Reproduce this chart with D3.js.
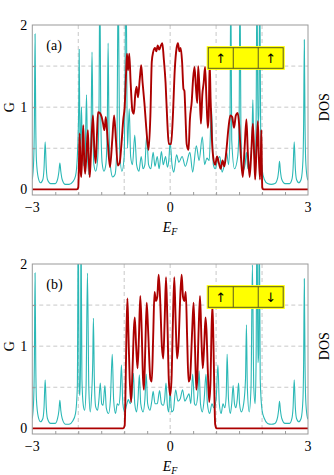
<!DOCTYPE html>
<html>
<head>
<meta charset="utf-8">
<script src="https://cdn.jsdelivr.net/npm/d3@7"></script>
<style>
  body { margin: 0; background: #fff; }
  text { font-family: "Liberation Serif", "DejaVu Serif", serif; }
</style>
</head>
<body>
<div class="chart"></div>
<script>
// x ticks and labels
var xTicks = [-3, 0, 3];
var yTicks = [0, 1, 2];
var gridX = [-2, -1, 0, 1, 2];
var gridY = [0.5, 1, 1.5];

// panel (a): DOS (cyan) and G (red), [E_F, value]
var dosA = [[-3.00,0.12],[-2.97,0.35],[-2.955,0.8],[-2.94,1.89],[-2.925,0.8],[-2.91,0.35],[-2.87,0.14],[-2.82,0.08],[-2.77,0.12],[-2.745,0.25],[-2.72,0.58],[-2.695,0.25],[-2.67,0.12],[-2.60,0.07],[-2.50,0.07],[-2.45,0.12],[-2.42,0.22],[-2.40,0.32],[-2.38,0.22],[-2.35,0.12],[-2.28,0.06],[-2.20,0.06],[-2.12,0.09],[-2.06,0.16],[-2.02,0.40],
  [-1.99,1.0],[-1.98,1.70],[-1.965,0.7],[-1.95,0.55],[-1.93,1.0],[-1.91,0.45],[-1.87,0.28],[-1.85,0.4],[-1.82,1.15],[-1.80,0.45],[-1.77,0.18],[-1.74,0.35],[-1.72,0.8],[-1.70,1.67],[-1.68,0.7],[-1.66,0.3],[-1.62,0.22],[-1.58,0.35],[-1.55,0.9],[-1.53,2.6],[-1.51,0.9],[-1.48,0.32],[-1.44,0.22],[-1.40,0.30],[-1.37,0.7],[-1.35,1.78],[-1.33,0.7],[-1.30,0.28],[-1.25,0.15],[-1.20,0.18],[-1.16,0.5],[-1.13,2.6],[-1.10,0.5],[-1.05,0.22],[-1.00,0.4],[-0.96,2.6],[-0.93,0.5],[-0.89,0.98],[-0.86,0.4],[-0.82,0.30],[-0.77,0.66],[-0.73,0.30],[-0.68,0.22],[-0.63,0.40],[-0.59,0.25],[-0.55,0.30],[-0.51,0.66],[-0.47,0.30],[-0.42,0.25],[-0.37,0.45],[-0.33,0.28],[-0.28,0.40],[-0.24,0.25],[-0.19,0.46],[-0.15,0.30],[-0.10,0.40],[-0.06,0.27],[-0.03,0.35],[0,0.58],
  [0.04,0.3],[0.08,0.21],[0.14,0.42],[0.19,0.33],[0.26,0.40],[0.33,0.28],[0.43,0.45],[0.49,0.21],[0.57,0.53],[0.63,0.35],[0.70,0.64],[0.75,0.30],[0.80,0.38],[0.85,0.35],[0.90,0.99],[0.94,0.30],[0.98,0.25],[1.03,0.35],[1.08,0.40],[1.13,0.21],[1.18,0.30],[1.23,0.45],[1.27,0.30],[1.30,0.6],[1.32,2.6],[1.34,0.6],[1.40,0.25],[1.47,0.4],[1.50,0.8],[1.52,2.6],[1.54,0.7],[1.58,0.22],[1.63,0.3],[1.66,0.45],[1.69,0.25],[1.75,0.35],[1.78,0.6],[1.80,1.09],[1.82,0.5],[1.85,0.3],[1.87,0.8],[1.89,2.6],[1.91,0.8],[1.93,0.9],[1.95,2.6],[1.97,0.7],[2.00,0.25],[2.05,0.12],[2.12,0.07],[2.20,0.06],[2.28,0.07],[2.34,0.14],[2.36,0.22],[2.38,0.34],[2.40,0.22],[2.43,0.12],[2.50,0.07],[2.60,0.07],[2.65,0.12],[2.675,0.25],[2.70,0.58],[2.725,0.25],[2.75,0.12],[2.80,0.08],[2.85,0.12],[2.89,0.35],[2.905,0.8],[2.92,1.82],[2.935,0.8],[2.95,0.35],[2.98,0.15],[3.00,0.11]];

var gA = [[-3,0],[-2.03,0],[-2.0,0.02],[-1.985,0.3],[-1.97,0.68],[-1.95,0.25],[-1.935,0.15],[-1.91,0.5],[-1.89,0.78],[-1.87,0.35],[-1.85,0.19],[-1.82,0.45],[-1.79,0.72],[-1.77,0.35],[-1.75,0.15],[-1.72,0.5],[-1.68,0.90],[-1.65,0.5],[-1.62,0.32],[-1.59,0.7],[-1.57,0.94],[-1.53,0.93],[-1.49,0.88],[-1.46,0.80],[-1.43,0.72],[-1.40,0.88],[-1.36,0.6],[-1.31,0.27],[-1.26,0.6],[-1.22,0.90],[-1.18,0.6],[-1.14,0.29],[-1.10,0.32],[-1.06,0.55],[-1.02,0.85],[-0.99,1.0],[-0.96,1.4],[-0.94,1.65],[-0.915,1.45],[-0.89,1.65],[-0.86,1.3],[-0.82,0.95],[-0.79,0.92],[-0.76,1.15],[-0.73,1.25],[-0.70,1.12],[-0.66,1.35],[-0.63,1.51],[-0.60,1.3],[-0.56,1.05],[-0.52,0.75],[-0.47,0.48],[-0.43,0.9],[-0.40,1.55],[-0.37,1.67],[-0.33,1.72],[-0.30,1.68],[-0.27,1.75],[-0.24,1.70],[-0.20,1.75],[-0.17,1.78],[-0.14,1.60],[-0.10,1.3],[-0.06,0.8],[-0.03,0.55],
  [0.02,0.55],[0.06,0.9],[0.10,1.45],[0.14,1.72],[0.17,1.78],[0.20,1.68],[0.23,1.72],[0.26,1.55],[0.29,1.22],[0.31,1.2],[0.33,0.95],[0.36,0.55],[0.40,0.48],[0.43,0.85],[0.47,1.07],[0.50,1.35],[0.53,1.49],[0.56,1.25],[0.59,1.05],[0.61,1.5],[0.64,1.2],[0.67,0.8],[0.70,1.15],[0.73,1.3],[0.76,1.49],[0.79,1.1],[0.82,0.75],[0.84,0.9],[0.86,1.55],[0.88,1.1],[0.91,0.6],[0.94,0.38],[0.98,0.3],[1.02,0.4],[1.06,0.32],[1.10,0.25],[1.14,0.35],[1.18,0.28],[1.22,0.45],[1.27,0.75],[1.31,0.9],[1.35,0.88],[1.39,0.75],[1.43,0.9],[1.47,0.93],[1.50,0.8],[1.54,0.4],[1.58,0.15],[1.62,0.5],[1.66,0.85],[1.69,0.45],[1.73,0.15],[1.77,0.5],[1.80,0.80],[1.83,0.4],[1.85,0.12],[1.88,0.5],[1.91,0.83],[1.93,0.4],[1.955,0.12],[1.975,0.45],[1.985,0.72],[1.995,0.3],[2.005,0.02],[2.03,0],[3,0]];

// panel (b)
var dosB = [[-3.00,0.12],[-2.97,0.35],[-2.955,0.8],[-2.94,1.89],[-2.925,0.8],[-2.91,0.35],[-2.87,0.14],[-2.82,0.08],[-2.77,0.12],[-2.745,0.25],[-2.72,0.59],[-2.695,0.25],[-2.67,0.12],[-2.60,0.06],[-2.50,0.06],[-2.45,0.12],[-2.42,0.22],[-2.40,0.34],[-2.38,0.22],[-2.35,0.12],[-2.28,0.05],[-2.20,0.05],[-2.12,0.09],[-2.06,0.18],
  [-2.02,0.5],[-2.0,2.6],[-1.98,0.5],[-1.965,0.4],[-1.95,0.8],[-1.94,2.6],[-1.92,0.6],[-1.89,0.28],[-1.86,0.22],[-1.83,0.5],[-1.80,1.89],[-1.77,0.5],[-1.74,0.2],[-1.71,0.4],[-1.685,0.8],[-1.67,1.34],[-1.65,0.6],[-1.62,0.26],[-1.58,0.22],[-1.55,0.35],[-1.52,0.55],[-1.49,0.3],[-1.46,0.28],[-1.42,0.52],[-1.39,0.25],[-1.34,0.18],[-1.30,0.35],[-1.26,0.9],[-1.23,0.35],[-1.19,0.18],[-1.15,0.30],[-1.12,0.28],[-1.09,0.4],[-1.06,0.77],[-1.03,0.3],[-0.99,0.2],[-0.95,0.28],[-0.91,0.35],[-0.87,0.3],[-0.83,0.4],[-0.80,0.67],[-0.77,0.3],[-0.73,0.2],[-0.70,0.35],[-0.67,0.65],[-0.64,0.3],[-0.59,0.2],[-0.55,0.35],[-0.52,0.66],[-0.49,0.3],[-0.44,0.22],[-0.40,0.33],[-0.37,0.45],[-0.33,0.3],[-0.28,0.3],[-0.23,0.46],[-0.19,0.3],[-0.15,0.28],[-0.12,0.35],[-0.09,0.55],[-0.06,0.28],[-0.03,0.2],[0,0.47],
  [0.03,0.2],[0.07,0.22],[0.12,0.47],[0.17,0.33],[0.22,0.36],[0.27,0.47],[0.32,0.33],[0.37,0.38],[0.41,0.42],[0.45,0.3],[0.49,0.66],[0.53,0.3],[0.56,0.28],[0.60,0.4],[0.63,0.7],[0.66,0.3],[0.70,0.2],[0.74,0.35],[0.78,0.66],[0.81,0.3],[0.86,0.18],[0.91,0.3],[0.95,0.25],[1.0,0.35],[1.04,0.77],[1.07,0.3],[1.11,0.18],[1.15,0.3],[1.19,0.25],[1.22,0.4],[1.24,0.9],[1.27,0.35],[1.31,0.18],[1.34,0.3],[1.37,0.52],[1.40,0.3],[1.43,0.25],[1.46,0.35],[1.49,0.55],[1.51,0.3],[1.55,0.2],[1.60,0.3],[1.64,0.6],[1.66,1.26],[1.68,0.5],[1.72,0.2],[1.76,0.5],[1.79,1.99],[1.82,0.5],[1.85,0.3],[1.87,0.8],[1.89,2.6],[1.91,0.8],[1.925,0.9],[1.94,2.6],[1.96,0.6],[2.00,0.22],[2.05,0.12],[2.12,0.06],[2.20,0.05],[2.28,0.06],[2.34,0.14],[2.36,0.22],[2.38,0.33],[2.40,0.22],[2.43,0.12],[2.50,0.06],[2.60,0.06],[2.65,0.12],[2.675,0.25],[2.70,0.59],[2.725,0.25],[2.75,0.12],[2.80,0.08],[2.85,0.12],[2.89,0.35],[2.905,0.8],[2.92,1.82],[2.935,0.8],[2.95,0.35],[2.98,0.15],[3.00,0.11]];

var gB = [[-3,0],[-1.02,0],[-0.99,0.03],[-0.97,0.5],[-0.95,1.2],[-0.93,1.58],[-0.91,1.2],[-0.88,0.6],[-0.85,0.32],[-0.82,0.7],[-0.79,1.2],[-0.77,1.35],[-0.74,1.0],[-0.71,0.73],[-0.68,1.1],[-0.65,1.61],[-0.62,1.2],[-0.59,0.6],[-0.57,0.47],[-0.54,1.0],[-0.51,1.53],[-0.48,1.2],[-0.43,0.6],[-0.40,0.57],[-0.37,1.1],[-0.34,1.66],[-0.31,1.55],[-0.28,1.6],[-0.25,1.87],[-0.22,1.6],[-0.18,1.0],[-0.15,0.85],[-0.12,1.3],[-0.09,1.84],[-0.06,1.3],[-0.03,0.6],[0,0.4],
  [0.03,0.6],[0.06,1.3],[0.09,1.84],[0.12,1.3],[0.15,0.85],[0.18,1.0],[0.22,1.6],[0.25,1.87],[0.28,1.6],[0.31,1.55],[0.34,1.66],[0.37,1.1],[0.40,0.57],[0.43,0.6],[0.48,1.2],[0.51,1.53],[0.54,1.0],[0.57,0.47],[0.59,0.6],[0.62,1.2],[0.65,1.61],[0.68,1.1],[0.71,0.73],[0.74,1.0],[0.77,1.35],[0.79,1.2],[0.82,0.7],[0.85,0.32],[0.88,0.6],[0.90,1.2],[0.92,1.5],[0.94,1.1],[0.96,0.5],[0.98,0.05],[1.01,0],[3,0]];

var margin = {left: 32.3, right: 26};
var width = 334 - margin.left - margin.right;
var height = 170;

var svg = d3.select(`.chart`)
    .append(`svg`)
    .attr(`width`, 334)
    .attr(`height`, 475);

var xScale = d3.scaleLinear().domain([-3, 3]).range([0, width]);
var yScale = d3.scaleLinear().domain([-0.069, 2]).range([height, 0]);

function panel(top, dos, g, label, arrows, id) {
    var p = svg.append(`g`).attr(`transform`, `translate(${margin.left},${top})`);

    p.append(`clipPath`).attr(`id`, `clip` + id)
        .append(`rect`).attr(`width`, width).attr(`height`, height);

    // dashed grid
    p.selectAll(`.gx`).data(gridX).enter().append(`line`)
        .attr(`x1`, d => xScale(d)).attr(`x2`, d => xScale(d))
        .attr(`y1`, 0).attr(`y2`, height)
        .style(`stroke`, `#c8c8c8`).style(`stroke-dasharray`, `4,3`);
    p.selectAll(`.gy`).data(gridY).enter().append(`line`)
        .attr(`x1`, 0).attr(`x2`, width)
        .attr(`y1`, d => yScale(d)).attr(`y2`, d => yScale(d))
        .style(`stroke`, `#c8c8c8`).style(`stroke-dasharray`, `4,3`);

    var line = d3.line()
        .x(d => xScale(d[0]))
        .y(d => yScale(d[1]))
        .curve(d3.curveMonotoneX);

    p.append(`path`).datum(dos)
        .attr(`d`, line)
        .attr(`clip-path`, `url(#clip${id})`)
        .style(`fill`, `none`).style(`stroke`, `#2bb8b6`).style(`stroke-width`, 1.1);

    p.append(`path`).datum(g)
        .attr(`d`, line)
        .attr(`clip-path`, `url(#clip${id})`)
        .style(`fill`, `none`).style(`stroke`, `#ac0000`).style(`stroke-width`, 1.9);

    // frame
    p.append(`rect`).attr(`width`, width).attr(`height`, height)
        .style(`fill`, `none`).style(`stroke`, `#9a9a9a`).style(`stroke-width`, 1);

    // axes with inward ticks
    var bottomAxis = d3.axisBottom(xScale).tickValues(d3.range(-2.5, 3, 0.5)).tickSizeInner(-3).tickSizeOuter(0).tickFormat(``);
    p.append(`g`).attr(`transform`, `translate(0,${height})`).call(bottomAxis)
        .call(a => a.select(`.domain`).remove())
        .selectAll(`line`).style(`stroke`, `#9a9a9a`);
    var leftAxis = d3.axisLeft(yScale).tickValues([0.5, 1, 1.5]).tickSizeInner(-3).tickSizeOuter(0).tickFormat(``);
    p.append(`g`).call(leftAxis)
        .call(a => a.select(`.domain`).remove())
        .selectAll(`line`).style(`stroke`, `#9a9a9a`);

    p.selectAll(`.xl`).data(xTicks).enter().append(`text`)
        .attr(`x`, d => xScale(d)).attr(`y`, height + 17)
        .attr(`text-anchor`, `middle`).style(`font-size`, `14px`)
        .text(d => d < 0 ? `\u2212` + Math.abs(d) : d);
    p.selectAll(`.yl`).data(yTicks).enter().append(`text`)
        .attr(`x`, -5).attr(`y`, d => yScale(d) + 5)
        .attr(`text-anchor`, `end`).style(`font-size`, `14px`)
        .text(d => d);

    var ef = p.append(`text`).attr(`x`, xScale(0)).attr(`y`, height + 37)
        .attr(`text-anchor`, `middle`).style(`font-size`, `14px`);
    ef.append(`tspan`).style(`font-style`, `italic`).text(`E`);
    ef.append(`tspan`).attr(`dy`, 3).style(`font-size`, `10px`).style(`font-style`, `italic`).text(`F`);

    p.append(`text`).attr(`transform`, `translate(-18,${yScale(1)}) rotate(-90)`)
        .attr(`text-anchor`, `middle`).style(`font-size`, `14px`).text(`G`);
    p.append(`text`).attr(`transform`, `translate(${width + 21},${yScale(1)}) rotate(-90)`)
        .attr(`text-anchor`, `middle`).style(`font-size`, `14px`).text(`DOS`);

    p.append(`text`).attr(`x`, 14).attr(`y`, 25).style(`font-size`, `14px`).text(label);

    // spin chain legend
    var lx = xScale(0.83), lw = xScale(2.46) - lx, ly = 22.7, lh = 20.6;
    p.append(`rect`).attr(`x`, lx - 1.6).attr(`y`, ly - 1.6).attr(`width`, lw + 3.2).attr(`height`, lh + 3.2)
        .style(`fill`, `#ffff00`);
    p.append(`rect`).attr(`x`, lx).attr(`y`, ly).attr(`width`, lw).attr(`height`, lh)
        .style(`fill`, `#ffff00`).style(`stroke`, `#5a5a20`).style(`stroke-width`, 1);
    [1, 2].forEach(i => {
        p.append(`line`).attr(`x1`, lx + lw * i / 3).attr(`x2`, lx + lw * i / 3)
            .attr(`y1`, ly).attr(`y2`, ly + lh)
            .style(`stroke`, `#5a5a20`).style(`stroke-width`, 1);
    });
    p.selectAll(`.arr`).data(arrows).enter().append(`text`)
        .attr(`x`, (d, i) => lx + lw * (i === 0 ? 1 : 5) / 6)
        .attr(`y`, ly + lh / 2 + 5)
        .attr(`text-anchor`, `middle`)
        .style(`font-family`, `"DejaVu Sans", sans-serif`).style(`font-size`, `13px`)
        .text(d => d);
}

panel(25, dosA, gA, `(a)`, [`\u2191`, `\u2191`], `a`);
panel(264, dosB, gB, `(b)`, [`\u2191`, `\u2193`], `b`);
</script>
</body>
</html>
